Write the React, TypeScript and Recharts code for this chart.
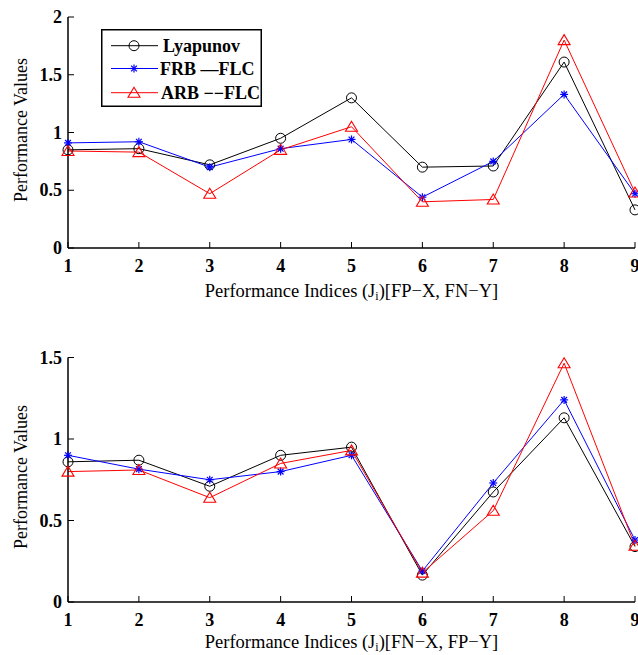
import React from 'react';
import { LineChart, Line, XAxis, YAxis, Legend } from 'recharts';

const indices = [1, 2, 3, 4, 5, 6, 7, 8, 9];
const yTicksTop = [0, 0.5, 1, 1.5, 2];
const yTicksBottom = [0, 0.5, 1, 1.5];

// Top panel: [FP-X, FN-Y]
const lyapTop = [0.85, 0.86, 0.72, 0.95, 1.3, 0.7, 0.71, 1.61, 0.33];
const frbTop = [0.91, 0.92, 0.7, 0.86, 0.94, 0.44, 0.75, 1.33, 0.47];
const arbTop = [0.84, 0.83, 0.47, 0.85, 1.05, 0.4, 0.42, 1.8, 0.48];

// Bottom panel: [FN-X, FP-Y]
const lyapBottom = [0.86, 0.87, 0.71, 0.9, 0.95, 0.165, 0.675, 1.13, 0.34];
const frbBottom = [0.9, 0.815, 0.75, 0.8, 0.9, 0.19, 0.73, 1.24, 0.38];
const arbBottom = [0.8, 0.81, 0.64, 0.85, 0.93, 0.18, 0.56, 1.465, 0.345];

const topData = indices.map((j, i) => ({ j, lyap: lyapTop[i], frb: frbTop[i], arb: arbTop[i] }));
const bottomData = indices.map((j, i) => ({ j, lyap: lyapBottom[i], frb: frbBottom[i], arb: arbBottom[i] }));

const FONT = '"Liberation Serif", "Times New Roman", Times, serif';
const BLUE = '#0000ff';
const RED = '#ff0000';

const CircleMark = ({ cx, cy }: { cx: number; cy: number }) => (
  <circle cx={cx} cy={cy} r={5} fill="none" stroke="#000" strokeWidth={1} />
);
const StarMark = ({ cx, cy }: { cx: number; cy: number }) => {
  const r = 4;
  const d = r * 0.72;
  return (
    <g stroke={BLUE} strokeWidth={1.2}>
      <line x1={cx - r} y1={cy} x2={cx + r} y2={cy} />
      <line x1={cx} y1={cy - r} x2={cx} y2={cy + r} />
      <line x1={cx - d} y1={cy - d} x2={cx + d} y2={cy + d} />
      <line x1={cx - d} y1={cy + d} x2={cx + d} y2={cy - d} />
    </g>
  );
};
const TriMark = ({ cx, cy }: { cx: number; cy: number }) => (
  <polygon
    points={`${cx},${cy - 5.5} ${cx - 6},${cy + 4.5} ${cx + 6},${cy + 4.5}`}
    fill="none"
    stroke={RED}
    strokeWidth={1.1}
  />
);

const dotCircle = (p: any) =>
  p.cx == null ? <g key={`c${p.index}`} /> : <g key={`c${p.index}`}><CircleMark cx={p.cx} cy={p.cy} /></g>;
const dotStar = (p: any) =>
  p.cx == null ? <g key={`s${p.index}`} /> : <g key={`s${p.index}`}><StarMark cx={p.cx} cy={p.cy} /></g>;
const dotTri = (p: any) =>
  p.cx == null ? <g key={`t${p.index}`} /> : <g key={`t${p.index}`}><TriMark cx={p.cx} cy={p.cy} /></g>;

const textStyle = { fontFamily: FONT };

const XTick = (props: any) => {
  const { x, y, payload } = props;
  return (
    <text x={x} y={y + 24} textAnchor="middle" style={textStyle} fontWeight="bold" fontSize={18} fill="#000">
      {payload.value}
    </text>
  );
};
const YTick = (props: any) => {
  const { x, y, payload } = props;
  return (
    <text x={x} y={y + 6} textAnchor="end" style={textStyle} fontWeight="bold" fontSize={18} fill="#000">
      {payload.value}
    </text>
  );
};

const LegendBox = () => {
  const rows = [16.7, 39.5, 63.7];
  return (
    <svg width={162} height={79} style={{ display: 'block' }}>
      <rect x={0.75} y={0.75} width={159.5} height={76.5} fill="#fff" stroke="#000" strokeWidth={1.5} />
      <line x1={10} y1={rows[0]} x2={57} y2={rows[0]} stroke="#000" strokeWidth={1} />
      <CircleMark cx={33} cy={rows[0]} />
      <line x1={10} y1={rows[1]} x2={57} y2={rows[1]} stroke={BLUE} strokeWidth={1} />
      <StarMark cx={33} cy={rows[1]} />
      <line x1={10} y1={rows[2]} x2={57} y2={rows[2]} stroke={RED} strokeWidth={1} />
      <TriMark cx={33} cy={rows[2]} />
      <text x={62} y={rows[0] + 6} style={textStyle} fontWeight="bold" fontSize={18} fill="#000">Lyapunov</text>
      <text x={59} y={rows[1] + 6} style={textStyle} fontWeight="bold" fontSize={18} fill="#000">FRB —FLC</text>
      <text x={60} y={rows[2] + 6} style={textStyle} fontWeight="bold" fontSize={18} fill="#000">ARB −−FLC</text>
    </svg>
  );
};

type PanelProps = {
  data: any[];
  height: number;
  top: number;
  marginTop: number;
  xAxisHeight: number;
  yMax: number;
  yTicks: number[];
  xLabel: string;
  xLabelY: number;
  yLabelY: number;
  showLegend: boolean;
};

const Panel = (p: PanelProps) => {
  const [pre, post] = p.xLabel.split('|');
  return (
    <div style={{ position: 'absolute', left: 0, top: p.top }}>
      <LineChart
        width={638}
        height={p.height}
        data={p.data}
        margin={{ top: p.marginTop, right: 3, left: 0, bottom: 0 }}
      >
        <XAxis
          xAxisId="b"
          dataKey="j"
          type="number"
          domain={[1, 9]}
          ticks={indices}
          orientation="bottom"
          height={p.xAxisHeight}
          tickSize={-6}
          tickMargin={6}
          axisLine={{ stroke: '#000', strokeWidth: 1.5 }}
          tickLine={{ stroke: '#000', strokeWidth: 1 }}
          tick={<XTick />}
          interval={0}
          label={() => (
            <text x={351.5} y={p.xLabelY} textAnchor="middle" style={textStyle} fontSize={18.5} fill="#000">
              {pre}
              <tspan fontSize={12} dy={3}>i</tspan>
              <tspan dy={-3}>{post}</tspan>
            </text>
          )}
        />
        <XAxis
          xAxisId="t"
          dataKey="j"
          type="number"
          domain={[1, 9]}
          ticks={indices}
          orientation="top"
          height={0}
          tickSize={-6}
          tick={false}
          interval={0}
          axisLine={{ stroke: '#000', strokeWidth: 1.5 }}
          tickLine={{ stroke: '#000', strokeWidth: 1 }}
        />
        <YAxis
          yAxisId="l"
          type="number"
          domain={[0, p.yMax]}
          ticks={p.yTicks}
          width={68}
          tickSize={-6}
          tickMargin={12}
          interval={0}
          axisLine={{ stroke: '#000', strokeWidth: 1.5 }}
          tickLine={{ stroke: '#000', strokeWidth: 1 }}
          tick={<YTick />}
          label={() => (
            <text
              x={27}
              y={p.yLabelY}
              transform={`rotate(-90, 27, ${p.yLabelY})`}
              textAnchor="middle"
              style={textStyle}
              fontSize={18}
              fill="#000"
            >
              Performance Values
            </text>
          )}
        />
        <YAxis
          yAxisId="r"
          orientation="right"
          type="number"
          domain={[0, p.yMax]}
          ticks={p.yTicks}
          width={0}
          tickSize={-6}
          tick={false}
          interval={0}
          axisLine={{ stroke: '#000', strokeWidth: 1.5 }}
          tickLine={{ stroke: '#000', strokeWidth: 1 }}
        />
        <Line
          xAxisId="b"
          yAxisId="l"
          dataKey="lyap"
          stroke="#000"
          strokeWidth={1}
          dot={dotCircle}
          activeDot={false}
          isAnimationActive={false}
        />
        <Line
          xAxisId="b"
          yAxisId="l"
          dataKey="frb"
          stroke={BLUE}
          strokeWidth={1}
          dot={dotStar}
          activeDot={false}
          isAnimationActive={false}
        />
        <Line
          xAxisId="b"
          yAxisId="l"
          dataKey="arb"
          stroke={RED}
          strokeWidth={1}
          dot={dotTri}
          activeDot={false}
          isAnimationActive={false}
        />
        {p.showLegend && (
          <Legend
            layout="vertical"
            align="center"
            verticalAlign="middle"
            content={<LegendBox />}
            wrapperStyle={{ left: 101, top: 29, width: 162, height: 79, lineHeight: 0 }}
          />
        )}
      </LineChart>
    </div>
  );
}

export default function App() {
  return (
    <div style={{ position: 'absolute', left: 0, top: 0, width: 638, height: 655, background: '#fff', overflow: 'hidden' }}>
      <Panel
        data={topData}
        height={330}
        top={0}
        marginTop={17}
        xAxisHeight={82}
        yMax={2}
        yTicks={yTicksTop}
        xLabel={'Performance Indices (J|)[FP−X, FN−Y]'}
        xLabelY={297}
        yLabelY={130}
        showLegend={true}
      />
      <Panel
        data={bottomData}
        height={325}
        top={330}
        marginTop={27.5}
        xAxisHeight={53}
        yMax={1.5}
        yTicks={yTicksBottom}
        xLabel={'Performance Indices (J|)[FN−X, FP−Y]'}
        xLabelY={318}
        yLabelY={147}
        showLegend={false}
      />
    </div>
  );
}
